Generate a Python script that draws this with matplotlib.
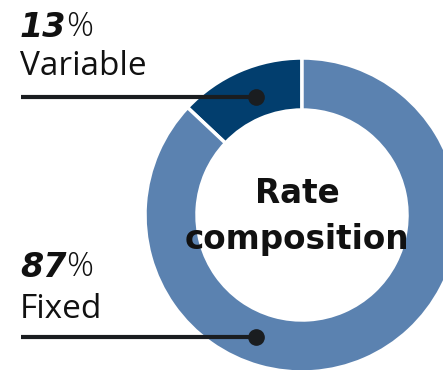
import matplotlib.pyplot as plt

# Data
labels = ['Variable', 'Fixed']
shares = [13, 87]
colors = ['#023e6e', '#5b82b0']

W, H = 443, 370
fig = plt.figure(figsize=(W / 100, H / 100), dpi=100)
ax = fig.add_axes([0, 0, 1, 1])

cx, cy, r = 302, H - 215, 157
ax.pie(shares, colors=colors, startangle=90, counterclock=True,
       center=(cx, cy), radius=r, frame=True,
       wedgeprops=dict(width=52, edgecolor='white', linewidth=2.5))
ax.set_xlim(0, W)
ax.set_ylim(0, H)
ax.set_aspect('equal')
ax.axis('off')

ink = '#111111'
ax.text(297, H - 203, 'Rate', ha='center', va='baseline', fontsize=23.5,
        fontweight='bold', family='DejaVu Sans', color=ink)
ax.text(297, H - 249, 'composition', ha='center', va='baseline', fontsize=23.5,
        fontweight='bold', family='DejaVu Sans', color=ink)

# labels with leader lines
rows = [(37, 75, 97), (277, 318, 337)]
for lab, val, (pct_y, lab_y, line_y) in zip(labels, shares, rows):
    t = ax.text(20, H - pct_y, f'{val}', ha='left', va='baseline', fontsize=24,
                fontweight='bold', fontstyle='italic', family='DejaVu Sans', color=ink)
    ax.annotate('%', xy=(1, 0), xycoords=t, ha='left', va='bottom', fontsize=24,
                fontweight='light', family='Open Sans', color=ink)
    ax.text(20, H - lab_y, lab, ha='left', va='baseline', fontsize=24,
            family='Open Sans', color=ink)
    ax.plot([21, 256], [H - line_y, H - line_y], color='#1a1d20', lw=3, solid_capstyle='butt')
    ax.plot(256, H - line_y, 'o', color='#1a1d20', markersize=11)

fig.savefig('out.png', dpi=100)
